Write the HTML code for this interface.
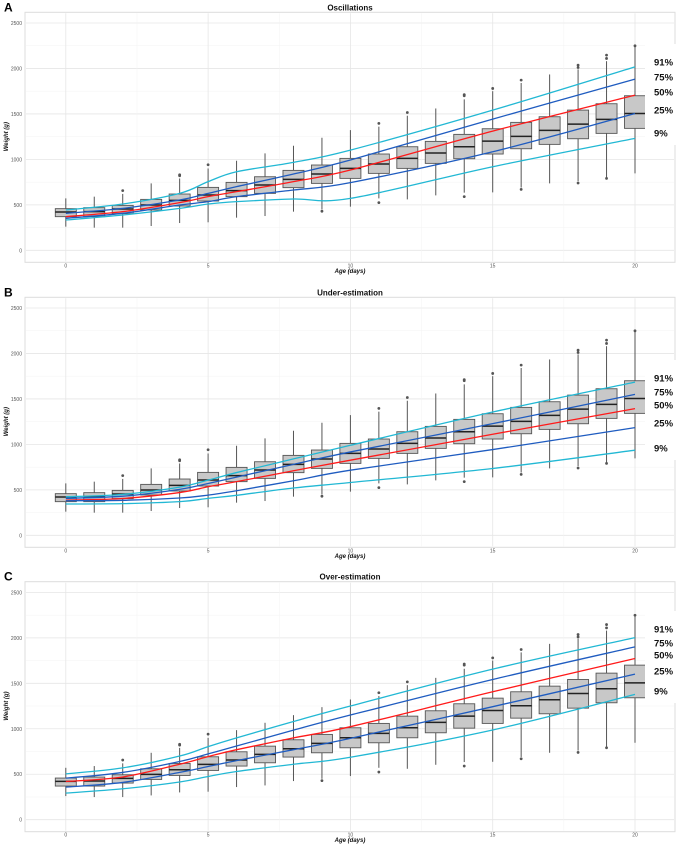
<!DOCTYPE html>
<html><head><meta charset="utf-8"><style>
html,body{margin:0;padding:0;background:#fff}
svg{display:block;font-family:"Liberation Sans",sans-serif}
</style></head><body>
<svg id="fig" width="676" height="848" viewBox="0 0 676 848" xmlns="http://www.w3.org/2000/svg"></svg>
<script>
// ---- data ----
const days = [0,1,2,3,4,5,6,7,8,9,10,11,12,13,14,15,16,17,18,19,20];
const q1  = [370,370,403,443,487,542,590,626,689,736,791,846,901,956,1007,1059,1117,1165,1227,1286,1341];
const med = [421,425,454,498,549,608,656,718,780,839,901,949,1011,1070,1139,1201,1253,1319,1388,1440,1505];
const q3  = [458,469,494,560,619,692,747,809,879,938,1011,1059,1139,1198,1275,1337,1407,1469,1542,1612,1700];
const wLo = [260,249,249,267,300,308,359,377,425,450,480,571,560,604,634,637,690,736,760,800,846];
const wHi = [571,590,620,736,790,900,985,1066,1150,1238,1322,1360,1480,1560,1660,1750,1840,1934,1990,2080,2249];
const outDay = [2,4,4,5,9,11,11,12,14,14,14,15,16,16,18,18,18,19,19,19,20];
const outVal = [656,820,830,941,430,1396,524,1516,1700,1712,590,1780,1872,670,2036,2010,740,2146,2110,791,2249];
const pctLabels = ["91%","75%","50%","25%","9%"];
const curveDays = [0,2,4,5,6,8,10,15,20];
const panelTitles = ["Oscillations","Under-estimation","Over-estimation"];
const panelLetters = ["A","B","C"];
// Panel A curves (91,75,50,25,9)
const aP91 = [443,509,626,755,864,967,1102,1542,2018];
const aP75 = [406,461,553,626,700,839,993,1443,1883];
const aP50 = [370,425,524,590,645,755,883,1311,1707];
const aP25 = [352,407,498,535,590,663,744,1084,1505];
const aP09 = [333,388,461,509,535,564,571,919,1231];
// Panel B
const bP91 = [424,450,530,607,690,840,990,1356,1685];
const bP75 = [406,430,505,570,640,780,917,1228,1550];
const bP50 = [387,405,470,534,590,710,826,1111,1393];
const bP25 = [380,385,410,442,490,600,716,943,1184];
const bP09 = [344,348,370,406,440,520,581,735,936];
// Panel C
const cP91 = [504,570,700,804,900,1080,1250,1656,2003];
const cP75 = [457,520,640,724,810,985,1151,1542,1901];
const cP50 = [420,470,610,694,770,900,1023,1407,1773];
const cP25 = [358,410,520,585,650,770,895,1243,1601];
const cP09 = [292,340,415,475,530,610,687,987,1378];
const yTicks = [0,500,1000,1500,2000,2500];
const xTicks = [0,5,10,15,20];

const curves = [[aP91,aP75,aP50,aP25,aP09],[bP91,bP75,bP50,bP25,bP09],[cP91,cP75,cP50,cP25,cP09]];
const labelY = [[62,77,92,110,133],[378,392,405,423,448],[629,643,655,671,691]];
const colors = ["#22b8d4","#1f5cc0","#ff1a1a","#1f5cc0","#22b8d4"];
const base0 = [250.3,535.3,819.7];
const NS = "http://www.w3.org/2000/svg";
const svg = document.getElementById('fig');
function mk(tag, attrs, parent){const e=document.createElementNS(NS,tag);for(const k in attrs)e.setAttribute(k,attrs[k]);(parent||svg).appendChild(e);return e;}
const xs = d => 65.8 + d*28.46;
function smooth(pts){let d=`M${pts[0][0]},${pts[0][1]}`;for(let i=0;i<pts.length-1;i++){const p0=pts[Math.max(0,i-1)],p1=pts[i],p2=pts[i+1],p3=pts[Math.min(pts.length-1,i+2)];const c1x=p1[0]+(p2[0]-p0[0])/6,c1y=p1[1]+(p2[1]-p0[1])/6,c2x=p2[0]-(p3[0]-p1[0])/6,c2y=p2[1]-(p3[1]-p1[1])/6;d+=` C${c1x},${c1y} ${c2x},${c2y} ${p2[0]},${p2[1]}`;}return d;}

for(let p=0;p<3;p++){
  const b0 = base0[p];
  const ys = v => b0 - v*227.3/2500;
  const top = b0-238, bot = b0+12;
  const g = mk('g',{});
  
  
  // letter & title
  const L = mk('text',{x:4,y:top-1,'font-size':12,'font-weight':'bold',fill:'#000'},g); L.textContent=panelLetters[p];
   
  const T = mk('text',{x:350,y:top-2,'font-size':8,'font-weight':'bold','text-anchor':'middle',fill:'#111'},g); T.textContent=panelTitles[p];
   
  // border
  const bd = mk('rect',{x:25,y:top,width:650,height:bot-top,fill:'none',stroke:'#dcdcdc','stroke-width':1},g);
   
  // grid
  for(let v=0; v<=2500; v+=250){const gl=mk('line',{x1:26,x2:674,y1:ys(v),y2:ys(v),stroke:v%500?'#f3f3f3':'#e6e6e6','stroke-width':v%500?0.5:0.8},g);}
  for(let d=-2.5; d<=22.5; d+=2.5){const xv=xs(d); if(xv<26||xv>674) continue; const gl=mk('line',{x1:xv,x2:xv,y1:top+1,y2:bot-1,stroke:d%5?'#f3f3f3':'#e6e6e6','stroke-width':d%5?0.5:0.8},g);}
  // ticks
  yTicks.forEach(v=>{const t=mk('text',{x:22,y:ys(v)+2,'font-size':5,'text-anchor':'end',fill:'#555'},g);t.textContent=v;});
  xTicks.forEach(d=>{const t=mk('text',{x:xs(d),y:bot+5,'font-size':5,'text-anchor':'middle',fill:'#555'},g);t.textContent=d;});
  const xt=mk('text',{x:350,y:bot+10.5,'font-size':6,'font-weight':'bold','font-style':'italic','text-anchor':'middle',fill:'#111'},g);xt.textContent='Age (days)';
  
  const yt=mk('text',{x:0,y:0,'font-size':6,'font-weight':'bold','font-style':'italic','text-anchor':'middle',fill:'#111',transform:`translate(8,${ys(1250)}) rotate(-90)`},g);yt.textContent='Weight (g)';
  
  // boxes
  days.forEach((d,i)=>{
    const x=xs(d), w=21;
    const wl=mk('line',{x1:x,x2:x,y1:ys(wLo[i]),y2:ys(wHi[i]),stroke:'#555','stroke-width':1},g);
    
    const r=mk('rect',{x:x-w/2,y:ys(q3[i]),width:w,height:ys(q1[i])-ys(q3[i]),fill:'#c8c8c8',stroke:'#555','stroke-width':0.9},g);
    
    const m=mk('line',{x1:x-w/2,x2:x+w/2,y1:ys(med[i]),y2:ys(med[i]),stroke:'#222','stroke-width':1.5},g);
    
  });
  outDay.forEach((d,i)=>{const c=mk('circle',{cx:xs(d),cy:ys(outVal[i]),r:1.4,fill:'#555'},g);});
  // curves
  curves[p].forEach((arr,k)=>{
    const pts=curveDays.map((d,j)=>[xs(d),ys(arr[j])]);
    const pa=mk('path',{d:smooth(pts),fill:'none',stroke:colors[k],'stroke-width':1.3},g);
    
    
  });
  // label area
  const wb=mk('rect',{x:645,y:labelY[p][0]-18,width:31,height:labelY[p][4]-labelY[p][0]+30,fill:'#fff'},g);
  
  pctLabels.forEach((lab,k)=>{const t=mk('text',{x:654,y:labelY[p][k]+3.5,'font-size':9.5,'font-weight':'bold',fill:'#111'},g);t.textContent=lab;
    });
}
</script>
</body></html>
